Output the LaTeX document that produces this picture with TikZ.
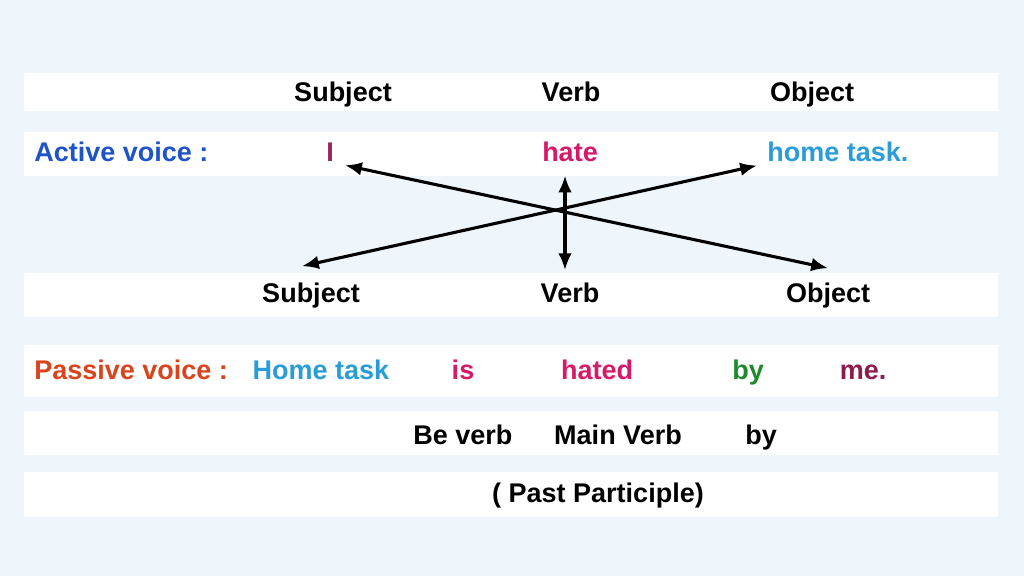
\documentclass[tikz,border=0pt]{standalone}
\usepackage{fontspec}
\setmainfont{Liberation Sans}
\usetikzlibrary{arrows.meta,calc}
\definecolor{bgBlue}{RGB}{238,246,251}
\definecolor{cActive}{RGB}{30,84,200}
\definecolor{cPassive}{RGB}{216,68,30}
\definecolor{cMaroon}{RGB}{160,34,88}
\definecolor{cPink}{RGB}{214,26,104}
\definecolor{cSky}{RGB}{42,156,214}
\definecolor{cGreen}{RGB}{30,138,46}
\definecolor{cMe}{RGB}{140,28,78}
\tikzset{
  band/.style={fill=white, draw=none},
  wrd/.style={font=\fontsize{19.2}{23}\selectfont\bfseries, inner sep=0pt, anchor=base},
  lbl/.style={wrd, anchor=base west},
  dar/.style={{Latex[length=4.2mm,width=3.4mm]}-{Latex[length=4.2mm,width=3.4mm]},
              line width=2.2pt, draw=black},
}

\begin{document}
\begin{tikzpicture}[x=0.025cm, y=-0.025cm]
\fill[bgBlue] (0,0) rectangle (1024,576);
\useasboundingbox (0,0) rectangle (1024,576);

% white rows
\foreach \t/\b in {73/111,132/176,273/317,345/397,411/455,472/517}
  \fill[band] (24,\t) rectangle (998,\b);

% active sentence
\node[wrd] (subjA) at (343,102) {Subject};
\node[wrd] (verbA) at (571,102) {Verb};
\node[wrd] (objA)  at (812,102) {Object};
\node[lbl, text=cActive] (active) at (34,162) {Active voice :};
\node[wrd, text=cMaroon] (i) at (330,162) {I};
\node[wrd, text=cPink] (hate) at (570,162) {hate};
\node[lbl, text=cSky] (task) at (767,162) {home task.};

% roles below
\node[wrd] (subjB) at (311,303) {Subject};
\node[wrd] (verbB) at (570,303) {Verb};
\node[wrd] (objB)  at (828,303) {Object};

% passive sentence
\node[lbl, text=cPassive] (passive) at (34,379) {Passive voice :};
\node[wrd, text=cSky] (htask) at (321,379) {Home task};
\node[wrd, text=cPink] (is) at (463,379) {is};
\node[wrd, text=cPink] (hated) at (597,379) {hated};
\node[wrd, text=cGreen] (by) at (748,379) {by};
\node[wrd, text=cMe] (me) at (863,379) {me.};

\node[wrd] (bev)   at (463,444) {Be verb};
\node[wrd] (mainv) at (618,444) {Main Verb};
\node[wrd] (byl)   at (761,444) {by};
\node[wrd] (pp)    at (598,502) {( Past Participle)};

% crossing arrows
\draw[dar] ($(i.south east)+(11,3)$) -- ($(objB.north)+(0,-15)$);
\draw[dar] ($(subjB.north)+(-9,-17)$) -- ($(task.south west)+(-10,3)$);
\draw[dar] ($(hate.south)+(-5,13)$) -- ($(verbB.north)+(-5,-13)$);
\end{tikzpicture}
\end{document}
